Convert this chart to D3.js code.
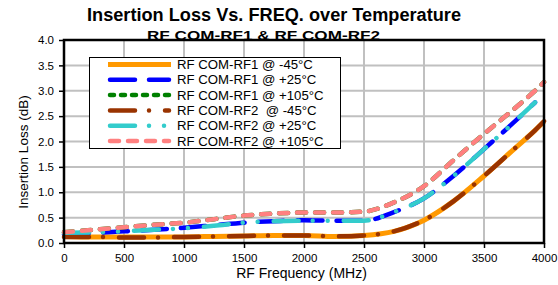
<!DOCTYPE html>
<html><head><meta charset="utf-8">
<script src="https://cdn.jsdelivr.net/npm/d3@7"></script>
<style>
html,body{margin:0;padding:0;background:#fff;}
svg{display:block;font-family:Arial,"Liberation Sans",sans-serif;}
</style></head>
<body><svg id="chart" width="558" height="285"></svg>
<script>
// ---- data ----
const freqs = [0,250,500,750,1000,1250,1500,1750,2000,2250,2500,2750,3000,3250,3500,3750,3925,4000];
const rf1Minus45 = [0.13,0.12,0.12,0.12,0.12,0.13,0.14,0.15,0.15,0.13,0.15,0.23,0.45,0.83,1.32,1.85,2.22,2.39];
const rf1Plus25  = [0.17,0.20,0.23,0.26,0.30,0.35,0.40,0.43,0.45,0.44,0.44,0.61,0.88,1.33,1.85,2.38,2.77,null];
const rf1Plus105 = [0.21,0.26,0.31,0.36,0.40,0.47,0.54,0.58,0.60,0.60,0.62,0.80,1.12,1.64,2.15,2.64,3.00,3.17];
const rf2Minus45 = [0.12,0.12,0.11,0.11,0.12,0.13,0.14,0.15,0.15,0.13,0.15,0.23,0.45,0.83,1.32,1.85,2.22,2.40];
const rf2Plus25  = [0.20,0.21,0.23,0.26,0.29,0.34,0.40,0.43,0.44,0.44,0.44,0.61,0.88,1.33,1.85,2.38,2.77,null];
const rf2Plus105 = [0.21,0.26,0.31,0.36,0.40,0.47,0.54,0.58,0.60,0.60,0.62,0.80,1.12,1.64,2.15,2.64,3.00,3.17];
const seriesNames = ["RF COM-RF1 @ -45°C","RF COM-RF1 @ +25°C","RF COM-RF1 @ +105°C","RF COM-RF2  @ -45°C","RF COM-RF2 @ +25°C","RF COM-RF2 @ +105°C"];
const xTicks = [0,500,1000,1500,2000,2500,3000,3500,4000];
const yTicks = [0,0.5,1,1.5,2,2.5,3,3.5,4];

// ---- styles ----
const series = [
  {name:seriesNames[0], vals:rf1Minus45, color:"#FF9900", dash:null, plotDash:null, w:5},
  {name:seriesNames[1], vals:rf1Plus25,  color:"#0000FF", dash:"25,14", plotDash:"25,14", w:4.5},
  {name:seriesNames[2], vals:rf1Plus105, color:"#008000", dash:"4,7", plotDash:"9,9", w:4.5},
  {name:seriesNames[3], vals:rf2Minus45, color:"#993300", dash:"25,14,0.01,16", plotDash:"25,14,0.01,16", w:4.5},
  {name:seriesNames[4], vals:rf2Plus25,  color:"#33CCCC", dash:"25,14,0.01,15,0.01,16", plotDash:"25,14,0.01,15,0.01,16", w:4.5},
  {name:seriesNames[5], vals:rf2Plus105, color:"#FF8080", dash:"9,9", plotDash:"9,9", w:4.5}
];

const svg = d3.select("#chart");
const L = 64, T = 40, R = 544, B = 243;
const x = d3.scaleLinear().domain([0,4000]).range([L,R]);
const y = d3.scaleLinear().domain([0,4]).range([B,T]);

// grid
svg.append("g").selectAll("line").data(xTicks.slice(1,-1)).join("line")
  .attr("x1",d=>x(d)).attr("x2",d=>x(d)).attr("y1",T).attr("y2",B)
  .attr("stroke","#c0c0c0").attr("stroke-width",2);
svg.append("g").selectAll("line").data(yTicks.slice(1,-1)).join("line")
  .attr("y1",d=>y(d)).attr("y2",d=>y(d)).attr("x1",L).attr("x2",R)
  .attr("stroke","#c0c0c0").attr("stroke-width",2);

// axes
const xAxis = svg.append("g").attr("transform",`translate(0,${B})`)
  .call(d3.axisBottom(x).tickValues(xTicks).tickSize(5).tickPadding(6).tickFormat(d3.format("d")));
const yAxis = svg.append("g").attr("transform",`translate(${L},0)`)
  .call(d3.axisLeft(y).tickValues(yTicks).tickSize(5).tickPadding(5).tickFormat(d3.format(".1f")));
[xAxis,yAxis].forEach(g=>{
  g.select(".domain").remove();
  g.selectAll(".tick line").attr("stroke","#000").attr("stroke-width",1.5);
  g.selectAll("text").attr("font-size","11.5px").attr("fill","#000").attr("font-family","Arial, 'Liberation Sans', sans-serif");
});

// lines
const line = d3.line()
  .defined(d=>d.v!=null)
  .x(d=>x(d.f)).y(d=>y(d.v))
  .curve(d3.curveMonotoneX);
const plot = svg.append("g");
series.forEach(s=>{
  const pts = freqs.map((f,i)=>({f:f, v:s.vals[i]}));
  plot.append("path").attr("d",line(pts))
    .attr("fill","none").attr("stroke",s.color).attr("stroke-width",s.w)
    .attr("stroke-linecap",s.plotDash?"round":"butt")
    .attr("stroke-linejoin","round")
    .attr("stroke-dasharray",s.plotDash);
});

// plot border
svg.append("rect").attr("x",L).attr("y",T).attr("width",R-L).attr("height",B-T)
  .attr("fill","none").attr("stroke","#000").attr("stroke-width",2.5);

// titles
svg.append("text").attr("x",274).attr("y",21).attr("text-anchor","middle")
  .attr("font-size","17.5px").attr("font-weight","bold")
  .attr("textLength",374).attr("lengthAdjust","spacingAndGlyphs")
  .text("Insertion Loss Vs. FREQ. over Temperature");
svg.append("text").attr("x",263.5).attr("y",39.5).attr("text-anchor","middle")
  .attr("font-size","13px").attr("font-weight","bold")
  .attr("textLength",233).attr("lengthAdjust","spacingAndGlyphs")
  .text("RF COM-RF1 & RF COM-RF2");
svg.append("text").attr("x",301.5).attr("y",278).attr("text-anchor","middle")
  .attr("font-size","14px").text("RF Frequency (MHz)");
svg.append("text").attr("transform","translate(27.5,152) rotate(-90)").attr("text-anchor","middle")
  .attr("font-size","13.5px").text("Insertion Loss (dB)");

// legend
const lg = svg.append("g");
lg.append("rect").attr("x",89.5).attr("y",57.5).attr("width",251).attr("height",91)
  .attr("fill","#fff").attr("stroke","#000").attr("stroke-width",1);
series.forEach((s,i)=>{
  const cy = 64.5 + i*15.3;
  lg.append("line").attr("x1",s.dash?110:108).attr("x2",s.dash?169:171).attr("y1",cy).attr("y2",cy)
    .attr("stroke",s.color).attr("stroke-width",s.w)
    .attr("stroke-linecap",s.dash?"round":"butt")
    .attr("stroke-dasharray",s.dash);
  lg.append("text").attr("x",177).attr("y",cy+4.5).attr("font-size","13.2px")
    .style("white-space","pre").text(s.name);
});
</script>
</body></html>
